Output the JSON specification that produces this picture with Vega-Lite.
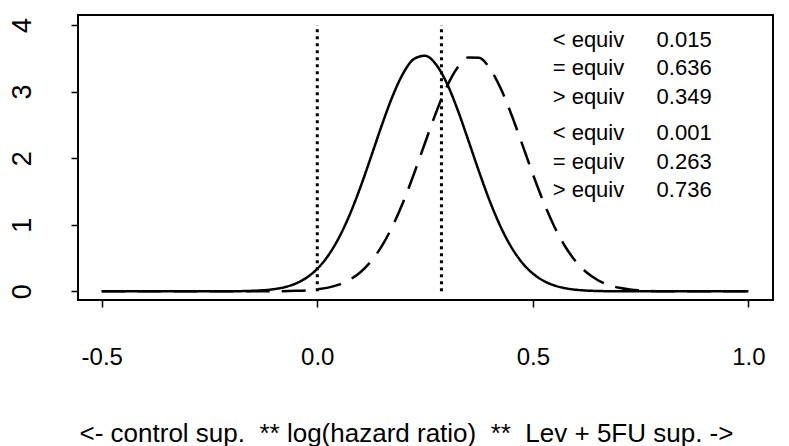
{
  "$schema": "https://vega.github.io/schema/vega-lite/v6.json",
  "width": 695,
  "height": 285,
  "autosize": {"type": "none"},
  "padding": {"left": 78, "top": 15, "right": 16, "bottom": 146},
  "background": "white",
  "config": {
    "view": {"stroke": "black", "strokeWidth": 2},
    "font": "Liberation Sans",
    "axis": {
      "grid": false,
      "domain": false,
      "ticks": true,
      "tickColor": "black",
      "tickWidth": 1.5,
      "tickSize": 7,
      "labelColor": "black",
      "labelFont": "Liberation Sans",
      "labelFontSize": 24,
      "titleFont": "Liberation Sans",
      "titleColor": "black",
      "titleFontWeight": "normal",
      "titleFontSize": 26
    }
  },
  "datasets": {
    "curves": [
      {"x": -0.5, "density": 0, "series": "solid"},
      {"x": -0.3, "density": 0, "series": "solid"},
      {"x": -0.2, "density": 0.0015, "series": "solid"},
      {"x": -0.15, "density": 0.0078, "series": "solid"},
      {"x": -0.125, "density": 0.0165, "series": "solid"},
      {"x": -0.1, "density": 0.0333, "series": "solid"},
      {"x": -0.075, "density": 0.0641, "series": "solid"},
      {"x": -0.05, "density": 0.1172, "series": "solid"},
      {"x": -0.025, "density": 0.2042, "series": "solid"},
      {"x": 0, "density": 0.3386, "series": "solid"},
      {"x": 0.025, "density": 0.5347, "series": "solid"},
      {"x": 0.05, "density": 0.8032, "series": "solid"},
      {"x": 0.075, "density": 1.1487, "series": "solid"},
      {"x": 0.1, "density": 1.5639, "series": "solid"},
      {"x": 0.125, "density": 2.027, "series": "solid"},
      {"x": 0.15, "density": 2.5007, "series": "solid"},
      {"x": 0.175, "density": 2.9365, "series": "solid"},
      {"x": 0.2, "density": 3.2826, "series": "solid"},
      {"x": 0.225, "density": 3.493, "series": "solid"},
      {"x": 0.25, "density": 3.538, "series": "solid"},
      {"x": 0.275, "density": 3.4112, "series": "solid"},
      {"x": 0.3, "density": 3.131, "series": "solid"},
      {"x": 0.325, "density": 2.7352, "series": "solid"},
      {"x": 0.35, "density": 2.2746, "series": "solid"},
      {"x": 0.375, "density": 1.8009, "series": "solid"},
      {"x": 0.4, "density": 1.357, "series": "solid"},
      {"x": 0.425, "density": 0.9733, "series": "solid"},
      {"x": 0.45, "density": 0.6647, "series": "solid"},
      {"x": 0.475, "density": 0.4319, "series": "solid"},
      {"x": 0.5, "density": 0.2672, "series": "solid"},
      {"x": 0.525, "density": 0.1574, "series": "solid"},
      {"x": 0.55, "density": 0.0883, "series": "solid"},
      {"x": 0.575, "density": 0.0471, "series": "solid"},
      {"x": 0.6, "density": 0.0239, "series": "solid"},
      {"x": 0.625, "density": 0.0116, "series": "solid"},
      {"x": 0.65, "density": 0.0053, "series": "solid"},
      {"x": 0.7, "density": 0.001, "series": "solid"},
      {"x": 0.8, "density": 0, "series": "solid"},
      {"x": 1.0, "density": 0, "series": "solid"},
      {"x": -0.5, "density": 0, "series": "dashed"},
      {"x": -0.2, "density": 0, "series": "dashed"},
      {"x": -0.1, "density": 0.0008, "series": "dashed"},
      {"x": -0.05, "density": 0.0071, "series": "dashed"},
      {"x": 0, "density": 0.0294, "series": "dashed"},
      {"x": 0.025, "density": 0.0558, "series": "dashed"},
      {"x": 0.05, "density": 0.1008, "series": "dashed"},
      {"x": 0.075, "density": 0.1742, "series": "dashed"},
      {"x": 0.1, "density": 0.2877, "series": "dashed"},
      {"x": 0.125, "density": 0.4535, "series": "dashed"},
      {"x": 0.15, "density": 0.6836, "series": "dashed"},
      {"x": 0.175, "density": 0.984, "series": "dashed"},
      {"x": 0.2, "density": 1.3532, "series": "dashed"},
      {"x": 0.225, "density": 1.7781, "series": "dashed"},
      {"x": 0.25, "density": 2.232, "series": "dashed"},
      {"x": 0.275, "density": 2.6766, "series": "dashed"},
      {"x": 0.3, "density": 3.067, "series": "dashed"},
      {"x": 0.325, "density": 3.3571, "series": "dashed"},
      {"x": 0.35, "density": 3.511, "series": "dashed"},
      {"x": 0.375, "density": 3.5075, "series": "dashed"},
      {"x": 0.4, "density": 3.3483, "series": "dashed"},
      {"x": 0.425, "density": 3.0529, "series": "dashed"},
      {"x": 0.45, "density": 2.6601, "series": "dashed"},
      {"x": 0.475, "density": 2.214, "series": "dashed"},
      {"x": 0.5, "density": 1.7604, "series": "dashed"},
      {"x": 0.525, "density": 1.3372, "series": "dashed"},
      {"x": 0.55, "density": 0.9706, "series": "dashed"},
      {"x": 0.575, "density": 0.6731, "series": "dashed"},
      {"x": 0.6, "density": 0.4458, "series": "dashed"},
      {"x": 0.625, "density": 0.2821, "series": "dashed"},
      {"x": 0.65, "density": 0.1707, "series": "dashed"},
      {"x": 0.675, "density": 0.0985, "series": "dashed"},
      {"x": 0.7, "density": 0.0543, "series": "dashed"},
      {"x": 0.725, "density": 0.0287, "series": "dashed"},
      {"x": 0.75, "density": 0.0145, "series": "dashed"},
      {"x": 0.8, "density": 0.0032, "series": "dashed"},
      {"x": 0.9, "density": 0.0001, "series": "dashed"},
      {"x": 1.0, "density": 0, "series": "dashed"}
    ],
    "refs": [
      {"x": 0, "y1": 0, "y2": 4},
      {"x": 0.288, "y1": 0, "y2": 4}
    ],
    "notes": [
      {"label": "< equiv", "value": "0.015", "y": 3.775},
      {"label": "= equiv", "value": "0.636", "y": 3.356},
      {"label": "> equiv", "value": "0.349", "y": 2.921},
      {"label": "< equiv", "value": "0.001", "y": 2.382},
      {"label": "= equiv", "value": "0.263", "y": 1.948},
      {"label": "> equiv", "value": "0.736", "y": 1.528}
    ]
  },
  "layer": [
    {
      "data": {"name": "curves"},
      "mark": {"type": "line", "color": "black", "strokeWidth": 2.5, "clip": true, "interpolate": "monotone"},
      "encoding": {
        "x": {
          "field": "x", "type": "quantitative",
          "scale": {"domain": [-0.555, 1.057], "nice": false, "zero": false},
          "axis": {
            "values": [-0.5, 0, 0.5, 1.0],
            "format": ".1f",
            "labelExpr": "replace(datum.label, '\u2212', '-')",
            "labelBaseline": "middle",
            "labelPadding": 50,
            "title": "<- control sup. \u00a0** log(hazard ratio) \u00a0** \u00a0Lev + 5FU sup. ->",
            "titleX": 328,
            "titleY": 133,
            "titleAlign": "center",
            "titleBaseline": "middle"
          }
        },
        "y": {
          "field": "density", "type": "quantitative",
          "scale": {"domain": [-0.13, 4.15], "nice": false, "zero": false},
          "axis": {
            "values": [0, 1, 2, 3, 4],
            "format": "d",
            "labelAngle": 270,
            "labelAlign": "center",
            "labelBaseline": "middle",
            "labelFontSize": 27,
            "labelPadding": 49,
            "title": null
          }
        },
        "detail": {"field": "series"},
        "strokeDash": {
          "field": "series", "type": "nominal",
          "scale": {"domain": ["solid", "dashed"], "range": [[1, 0], [24, 12]]},
          "legend": null
        }
      }
    },
    {
      "data": {"name": "refs"},
      "mark": {"type": "rule", "color": "black", "strokeWidth": 3, "strokeDash": [3, 4]},
      "encoding": {
        "x": {"field": "x", "type": "quantitative"},
        "y": {"field": "y1", "type": "quantitative"},
        "y2": {"field": "y2"}
      }
    },
    {
      "data": {"name": "notes"},
      "mark": {"type": "text", "align": "left", "baseline": "middle", "fontSize": 22, "font": "Liberation Sans", "color": "black"},
      "encoding": {
        "x": {"datum": 0.546, "type": "quantitative"},
        "y": {"field": "y", "type": "quantitative"},
        "text": {"field": "label"}
      }
    },
    {
      "data": {"name": "notes"},
      "mark": {"type": "text", "align": "left", "baseline": "middle", "fontSize": 22, "font": "Liberation Sans", "color": "black"},
      "encoding": {
        "x": {"datum": 0.787, "type": "quantitative"},
        "y": {"field": "y", "type": "quantitative"},
        "text": {"field": "value"}
      }
    }
  ]
}
